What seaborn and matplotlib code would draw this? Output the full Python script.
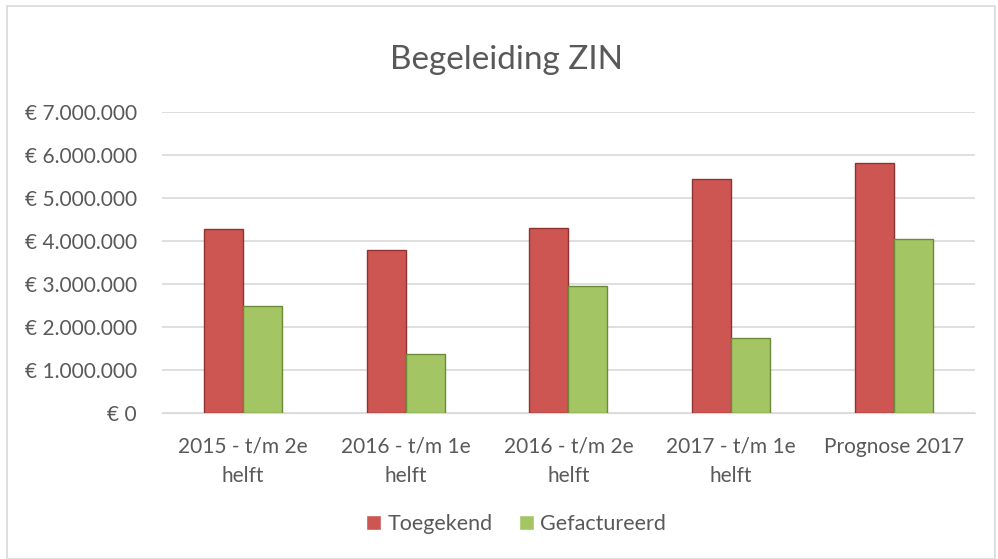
import pandas as pd
import matplotlib.pyplot as plt
import seaborn as sns
from matplotlib.ticker import FuncFormatter, MultipleLocator
from matplotlib.patches import Rectangle

# Data
categories = ['2015 - t/m 2e\nhelft', '2016 - t/m 1e\nhelft', '2016 - t/m 2e\nhelft',
              '2017 - t/m 1e\nhelft', 'Prognose 2017']
toegekend = [4280000, 3780000, 4300000, 5430000, 5810000]
gefactureerd = [2480000, 1370000, 2960000, 1740000, 4050000]

df = pd.DataFrame({
    'categorie': categories * 2,
    'waarde': toegekend + gefactureerd,
    'reeks': ['Toegekend'] * 5 + ['Gefactureerd'] * 5,
})

sns.set_style('white')
plt.rcParams['font.family'] = ['Lato', 'DejaVu Sans']

fig = plt.figure(figsize=(9.98, 5.59), dpi=100)
ax = fig.add_axes([0.162, 0.261, 0.815, 0.539])

palette = {'Toegekend': '#CD5653', 'Gefactureerd': '#A3C564'}
sns.barplot(data=df, x='categorie', y='waarde', hue='reeks', palette=palette,
            width=0.48, ax=ax, saturation=1, zorder=3)

# darker edges to mimic the bevelled Excel bars
edges = {'Toegekend': '#8E3331', 'Gefactureerd': '#6D8A3A'}
for container, name in zip(ax.containers, ['Toegekend', 'Gefactureerd']):
    for bar in container:
        bar.set_edgecolor(edges[name])
        bar.set_linewidth(1.0)

ax.set_ylim(0, 7000000)
ax.yaxis.set_major_locator(MultipleLocator(1000000))
ax.yaxis.set_major_formatter(FuncFormatter(
    lambda v, p: '€ ' + f'{int(v):,}'.replace(',', '.')))
ax.grid(axis='y', color='#D9D9D9', linewidth=1.2, zorder=0)
for s in ax.spines.values():
    s.set_visible(False)
ax.spines['bottom'].set_visible(True)
ax.spines['bottom'].set_color('#D9D9D9')
ax.tick_params(axis='y', length=0, labelsize=15, colors='#595959', pad=18)
ax.tick_params(axis='x', length=0, labelsize=15, colors='#595959', pad=17)
for lbl in ax.get_xticklabels():
    lbl.set_linespacing(1.6)
ax.set_xlabel('')
ax.set_ylabel('')

fig.text(0.508, 0.893, 'Begeleiding ZIN', fontsize=24, color='#595959',
         ha='center', va='center')

ax.get_legend().remove()
handles, labels = ax.get_legend_handles_labels()
fig.legend(handles, labels, loc='center', bbox_to_anchor=(0.517, 0.063), ncol=2,
           frameon=False, fontsize=15.5, labelcolor='#595959', handlelength=0.7,
           handleheight=0.7, handletextpad=0.3, columnspacing=1.2)

fig.patches.append(Rectangle((0.007, 0.0), 0.99, 0.99, transform=fig.transFigure,
                             fill=False, edgecolor='#D9D9D9', linewidth=1.2))

fig.savefig('out.png', dpi=100)
